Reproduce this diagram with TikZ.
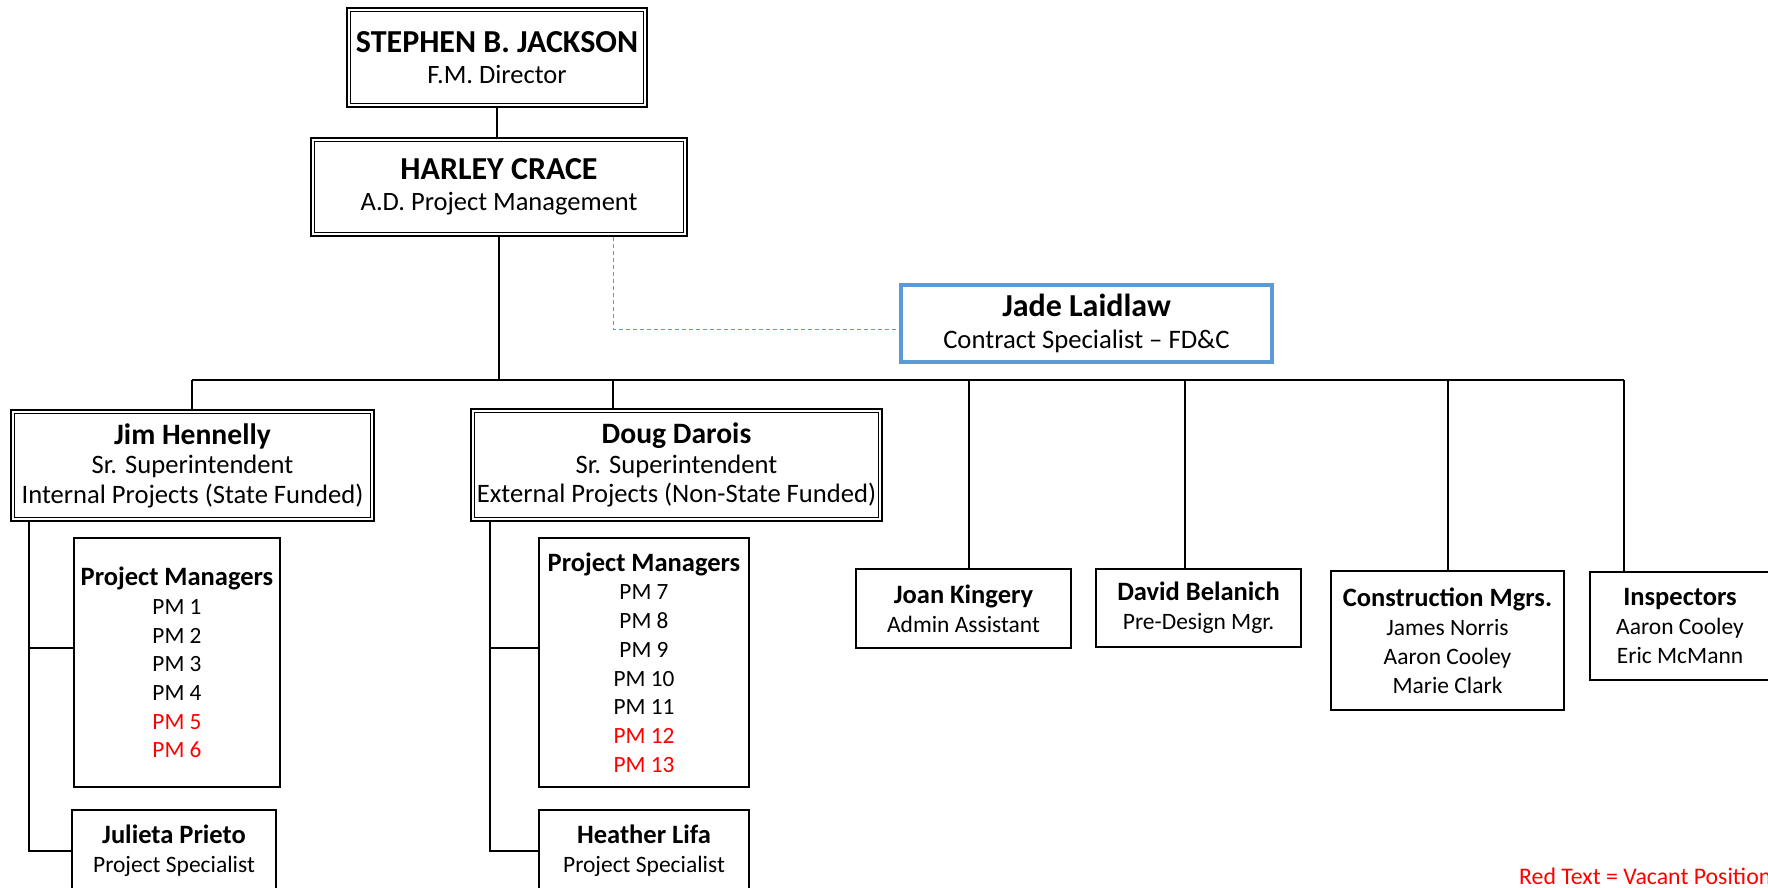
\documentclass[tikz,border=0pt]{standalone}
\usepackage{fontspec}
\setmainfont{Carlito}
\usetikzlibrary{positioning,calc}
\definecolor{ink}{HTML}{000000}
\definecolor{liaison}{HTML}{5B9BD5}
\definecolor{vacant}{HTML}{FF0000}
\newcommand{\bigname}{\fontsize{32}{31.5}\selectfont\bfseries}
\newcommand{\midname}{\fontsize{29.6}{29.5}\selectfont\bfseries}
\newcommand{\lowname}{\fontsize{26.5}{29}\selectfont\bfseries}

\begin{document}
\begin{tikzpicture}[
  x=1pt, y=-1pt, color=ink,
  box/.style={draw, line width=2.6pt, align=center, inner sep=0pt},
  dblbox/.style={box, line width=2.4pt, path picture={\draw[line width=1pt]
      ([shift={(3.6pt,-3.6pt)}]path picture bounding box.north west) rectangle
      ([shift={(-3.6pt,3.6pt)}]path picture bounding box.south east);}},
  topbox/.style={dblbox, font=\fontsize{26.5}{31.5}\selectfont},
  supbox/.style={dblbox, font=\fontsize{26.6}{29.5}\selectfont},
  staffbox/.style={box, font=\fontsize{23.5}{29}\selectfont},
  pmbox/.style={box, font=\fontsize{23.3}{28.7}\selectfont},
  linkbox/.style={box, draw=liaison, line width=3.5pt, font=\fontsize{26.7}{31.5}\selectfont},
  conn/.style={line width=2.6pt},
  liaisonline/.style={draw=liaison, line width=1pt, dash pattern=on 4pt off 3pt},
]
\useasboundingbox (0,0) rectangle (1768,888);

% directors
\node[topbox, minimum width=300pt, minimum height=99pt] (director) at (497,57.5)
  {{\bigname STEPHEN B. JACKSON}\\F.M. Director};
\node[topbox, minimum width=376pt, minimum height=98pt] (crace) at (499,187)
  {{\bigname HARLEY CRACE}\\A.D. Project Management};
\node[linkbox, minimum width=371pt, minimum height=77pt] (laidlaw) at (1086.5,323.5)
  {{\bigname Jade Laidlaw}\\Contract Specialist -- FD\&C};

% superintendents
\node[supbox, minimum width=363pt, minimum height=111pt] (hennelly) at (192.5,465.5)
  {{\midname Jim Hennelly}\\Sr. Superintendent\\Internal Projects (State Funded)};
\node[supbox, minimum width=411pt, minimum height=112pt] (darois) at (676.5,465)
  {{\midname Doug Darois}\\Sr. Superintendent\\External Projects (Non-State Funded)};

% project managers and specialists
\node[pmbox, minimum width=206pt, minimum height=249pt] (pmA) at (177,662.5)
  {{\lowname Project Managers}\\PM 1\\PM 2\\PM 3\\PM 4\\
   \textcolor{vacant}{PM 5}\\\textcolor{vacant}{PM 6}};
\node[staffbox, minimum width=204pt, minimum height=82pt] (prieto) at (174,851)
  {{\lowname Julieta Prieto}\\Project Specialist};
\node[pmbox, minimum width=210pt, minimum height=249pt] (pmB) at (644,662.5)
  {{\lowname Project Managers}\\PM 7\\PM 8\\PM 9\\PM 10\\PM 11\\
   \textcolor{vacant}{PM 12}\\\textcolor{vacant}{PM 13}};
\node[staffbox, minimum width=210pt, minimum height=82pt] (lifa) at (644,851)
  {{\lowname Heather Lifa}\\Project Specialist};

% staff
\node[staffbox, minimum width=215pt, minimum height=79pt] (kingery) at (963.5,608.5)
  {{\lowname Joan Kingery}\\Admin Assistant};
\node[staffbox, minimum width=205pt, minimum height=78pt] (belanich) at (1198.5,608)
  {{\lowname David Belanich}\\Pre-Design Mgr.};
\node[staffbox, minimum width=233pt, minimum height=139pt] (cmgrs) at (1447.5,640.5)
  {{\lowname Construction Mgrs.}\\James Norris\\Aaron Cooley\\Marie Clark};
\node[staffbox, minimum width=180pt, minimum height=108pt] (inspect) at (1680,626)
  {{\lowname Inspectors}\\Aaron Cooley\\Eric McMann};

% legend
\node[anchor=west, inner sep=0pt, text=vacant, font=\fontsize{23.8}{28}\selectfont]
  (legend) at (1519,876) {Red Text = Vacant Positions};

% connectors
\coordinate (busL) at (192,380);
\coordinate (busR) at (1624,380);
\draw[conn] (director.south) -- (director.south |- crace.north);
\draw[conn] (crace.south) -- (crace.south |- busL);
\draw[conn] (busL) -- (busR);
\foreach \x/\n in {192/hennelly, 613/darois, 969/kingery, 1185/belanich, 1448/cmgrs, 1624/inspect}{
  \coordinate (t\n) at (\x,380);
  \draw[conn] (t\n) -- (t\n |- \n.north);
}
\draw[liaisonline] ([xshift=114pt]crace.south) |- ([yshift=-6pt]laidlaw.west);

% left spines
\coordinate (jA) at (29,648);
\coordinate (jB) at (490,648);
\draw[conn] (jA |- hennelly.south) -- (jA |- prieto.west) -- (prieto.west);
\draw[conn] (jA) -- (jA -| pmA.west);
\draw[conn] (jB |- darois.south) -- (jB |- lifa.west) -- (lifa.west);
\draw[conn] (jB) -- (jB -| pmB.west);
\end{tikzpicture}
\end{document}
